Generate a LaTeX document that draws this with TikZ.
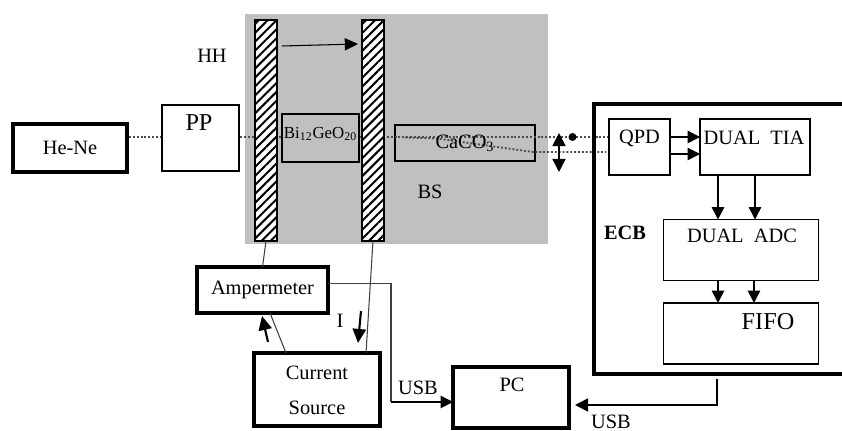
\documentclass[tikz,border=0pt]{standalone}
\usepackage{xcolor}
\usepackage{fontspec}
\setmainfont{Liberation Serif}
\usepackage{tikz}
\usetikzlibrary{arrows.meta, patterns.meta}

\definecolor{benchgray}{HTML}{C0C0C0}

\begin{document}
\begin{tikzpicture}[
    x=0.02cm, y=-0.02cm,
    txt/.style={font=\fontsize{11.6}{13}\selectfont, inner sep=0pt},
    bigtxt/.style={font=\fontsize{13.8}{15}\selectfont, inner sep=0pt},
    thinbox/.style={draw, line width=1pt, outer sep=0pt, inner sep=0pt, txt},
    heavybox/.style={draw, line width=2.4pt, outer sep=0pt, inner sep=0pt, txt},
    plate/.style={draw, line width=1.3pt, outer sep=0pt, minimum width=0.44cm, minimum height=4.42cm,
        preaction={fill=white}, pattern={Lines[angle=45, distance=3.6pt, line width=1.15pt]}},
    beam/.style={line width=1.05pt, black!70, dash pattern=on 1.1pt off 1.1pt},
    wire/.style={line width=0.6pt, black!75},
    arrow/.style={-{Triangle[length=7pt, width=7pt]}, line width=0.9pt},
    fatarrow/.style={-{Triangle[length=8pt, width=7.5pt]}, line width=1.2pt}
]
    \useasboundingbox (0,0) rectangle (842,431);

    % Bench
    \node[fill=benchgray, minimum width=6.06cm, minimum height=4.6cm, outer sep=0pt] (bench) at (396.5,129) {};

    % Beams
    \coordinate (lasera) at (129,137);
    \coordinate (laserb) at (160,137);
    \coordinate (beamin) at (240,137);
    \coordinate (beamout) at (608,137);
    \coordinate (splita) at (405,137.5);
    \coordinate (splitb) at (437,138.5);
    \coordinate (splitc) at (533,152);
    \coordinate (beamlow) at (606,152);
    \node[thinbox, minimum width=2.8cm, minimum height=0.72cm] (calcite) at (465,143) {};
    \draw[beam] (lasera) -- (laserb);
    \draw[beam] (beamin) -- (beamout);
    \draw[beam] (splita) -- (splitb) -- (splitc) -- (beamlow);
    \node[txt] (calcitetxt) at (465,143) {CaCO\textsubscript{3}};

    % Plates
    \node[plate] (platea) at (266,130.5) {};
    \node[plate] (plateb) at (373,130.5) {};
    \draw[-{Triangle[length=7.5pt, width=7pt]}, line width=0.6pt] (282,46) -- (358,44);
    \node[thinbox, fill=benchgray, minimum width=1.54cm, minimum height=0.96cm] (crystal) at (320.5,138) {};
    \node[font=\fontsize{9.6}{11}\selectfont, inner sep=0pt] (crystaltxt) at (320.5,134) {Bi\textsubscript{12}GeO\textsubscript{20}};
    \node[txt] (hh) at (212,56) {HH};
    \node[txt] (bs) at (430,192) {BS};

    % Laser side
    \node[heavybox, minimum width=2.28cm, minimum height=0.96cm] (laser) at (70,148) {He-Ne};
    \node[thinbox, minimum width=1.54cm, minimum height=1.32cm] (pp) at (200.5,138) {};
    \node[bigtxt] (pptxt) at (199,123) {PP};

    % Electronics
    \draw[line width=2.4pt] (842,104) -- (594,104) -- (594,374) -- (842,374);
    \node[font=\fontsize{11.6}{13}\selectfont\bfseries, inner sep=0pt] (ecb) at (625,233) {ECB};
    \node[thinbox, minimum width=1.22cm, minimum height=1.12cm] (qpd) at (639.5,147) {};
    \node[txt] (qpdtxt) at (639.5,138) {QPD};
    \node[thinbox, minimum width=2.2cm, minimum height=1.12cm] (tia) at (755,147) {};
    \node[txt] (tiatxt) at (754,138) {DUAL\ \ TIA};
    \node[thinbox, minimum width=3.1cm, minimum height=1.22cm] (adc) at (741,250) {};
    \node[txt] (adctxt) at (742,236) {DUAL\ \ ADC};
    \node[thinbox, minimum width=3.1cm, minimum height=1.22cm] (fifo) at (741,333.5) {};
    \node[bigtxt] (fifotxt) at (768,322) {FIFO};

    \draw[arrow] (qpd.east |- 0,137) -- (tia.west |- 0,137);
    \draw[arrow] (qpd.east |- 0,154) -- (tia.west |- 0,154);
    \draw[arrow] (tia.south -| 718,0) -- (adc.north -| 718,0);
    \draw[arrow] (tia.south -| 755,0) -- (adc.north -| 755,0);
    \draw[arrow] (adc.south -| 718,0) -- (fifo.north -| 718,0);
    \draw[arrow] (adc.south -| 754,0) -- (fifo.north -| 754,0);

    % Lens
    \node[circle, fill=black, inner sep=0pt, minimum size=0.16cm] (spot) at (572.5,137) {};
    \coordinate (lenstop) at (559,133);
    \coordinate (lensbot) at (559,172);
    \draw[{Triangle[length=7.5pt, width=7.5pt]}-{Triangle[length=7.5pt, width=7.5pt]}, line width=0.9pt] (lenstop) -- (lensbot);

    % Current loop
    \node[heavybox, minimum width=2.62cm, minimum height=0.92cm] (amp) at (262.5,290) {Ampermeter};
    \node[heavybox, minimum width=2.52cm, minimum height=1.46cm] (source) at (317,389.5) {};
    \node[txt] (sourcea) at (317,373) {Current};
    \node[txt] (sourceb) at (317,408) {Source};
    \node[heavybox, minimum width=2.32cm, minimum height=1.22cm] (pc) at (511,397.5) {};
    \node[txt] (pctxt) at (512,385) {PC};
    \node[txt] (cur) at (340,321) {I};
    \node[txt] (usba) at (418,388) {USB};
    \node[txt] (usbb) at (611,422) {USB};

    \coordinate (sourcetopa) at (286,353);
    \coordinate (amplow) at (270,313);
    \coordinate (sourcetopb) at (366,353);
    \coordinate (ampright) at (328,283.5);
    \coordinate (usbcorner) at (391,283.5);
    \coordinate (pcin) at (453,402);
    \coordinate (framelow) at (717,379);
    \coordinate (framebend) at (717,405);
    \coordinate (pcout) at (575,405);
    \coordinate (curata) at (268,342);
    \coordinate (curatb) at (262,316);
    \coordinate (curbta) at (361,311);
    \coordinate (curbtb) at (358,343);

    \draw[wire] (platea.south) -- (amp.north);
    \draw[wire] (plateb.south) -- (sourcetopb);
    \draw[wire] (sourcetopa) -- (amplow);
    \draw[fatarrow] (curata) -- (curatb);
    \draw[fatarrow] (curbta) -- (curbtb);
    \draw[wire] (ampright) -- (usbcorner) -- (usbcorner |- pcin);
    \draw[-{Triangle[length=7pt, width=7pt]}, line width=0.6pt] (usbcorner |- pcin) -- (pcin);
    \draw[-{Triangle[length=7.5pt, width=7.5pt]}, line width=0.9pt] (framelow) -- (framebend) -- (pcout);
\end{tikzpicture}
\end{document}
